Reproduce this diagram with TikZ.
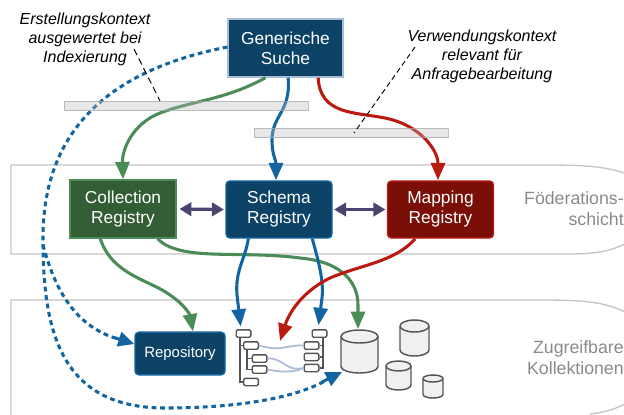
\documentclass[tikz,border=0pt]{standalone}
\usepackage{fontspec}
\setmainfont{Liberation Sans}
\usetikzlibrary{arrows.meta,calc}
\definecolor{navy}{HTML}{0C4266}
\definecolor{navyedge}{HTML}{A9BCD6}
\definecolor{arrblue}{HTML}{1265A0}
\definecolor{forest}{HTML}{335D35}
\definecolor{arrgreen}{HTML}{4A8B57}
\definecolor{darkred}{HTML}{7A0F08}
\definecolor{arrred}{HTML}{BB1A10}
\definecolor{purp}{HTML}{4A4570}
\definecolor{bandline}{HTML}{C4C4C4}
\definecolor{graytxt}{HTML}{8A8A8A}
\definecolor{sketch}{HTML}{555555}
\tikzset{
  box/.style={text=white,align=center,font=\fontsize{13}{15}\selectfont,inner sep=0pt,line width=1.1pt},
  bigtip/.style={-{Triangle[width=10.5pt,length=13pt]}},
  conn/.style={line width=2.3pt,bigtip},
  bluec/.style={conn,draw=arrblue},
  greenc/.style={conn,draw=arrgreen},
  redc/.style={conn,draw=arrred},
  dashc/.style={line width=2.3pt,draw=arrblue,dash pattern=on 3.6pt off 2.8pt},
  both/.style={line width=2.4pt,draw=purp,{Triangle[width=10pt,length=9pt]}-{Triangle[width=10pt,length=9pt]}},
  band/.style={line width=1pt,draw=bandline},
  bar/.style={draw=gray!70,line width=.6pt,fill=gray!55,fill opacity=.35,draw opacity=.7,inner sep=0pt,minimum height=7pt},
  note/.style={align=center,font=\fontsize{12}{14.2}\selectfont\itshape,inner sep=0pt},
  side/.style={align=right,anchor=east,text=graytxt,font=\fontsize{13.3}{15.8}\selectfont,inner sep=0pt},
  leaf/.style={draw=sketch,line width=1pt,fill=white,rounded corners=1pt,minimum width=11pt,minimum height=5.5pt,inner sep=0pt},
  tree/.style={draw=sketch,line width=1.1pt},
  link/.style={draw=navyedge,line width=1.3pt},
  cyl/.style={draw=sketch,line width=1.1pt,fill=gray!12}
}
\newcommand{\barrel}[5]{% cx, top-centre y, half width, bottom-centre y, half height of the ellipse
  \pgfmathsetmacro{\xa}{#1-#3}\pgfmathsetmacro{\xb}{#1+#3}
  \pgfmathsetmacro{\xc}{#1-.55*#3}\pgfmathsetmacro{\xd}{#1+.55*#3}
  \pgfmathsetmacro{\ya}{#2-#5}\pgfmathsetmacro{\yb}{#2+#5}
  \pgfmathsetmacro{\yc}{#2-.55*#5}\pgfmathsetmacro{\yd}{#2+.55*#5}
  \pgfmathsetmacro{\ye}{#4+#5}\pgfmathsetmacro{\yf}{#4+.55*#5}
  \filldraw[cyl] (\xa,#2) -- (\xa,#4) .. controls (\xa,\yf) and (\xc,\ye) .. (#1,\ye) .. controls (\xd,\ye) and (\xb,\yf) .. (\xb,#4) -- (\xb,#2)
     .. controls (\xb,\yc) and (\xd,\ya) .. (#1,\ya) .. controls (\xc,\ya) and (\xa,\yc) .. (\xa,#2) -- cycle;
  \draw[cyl,fill=none] (\xa,#2) .. controls (\xa,\yd) and (\xc,\yb) .. (#1,\yb) .. controls (\xd,\yb) and (\xb,\yd) .. (\xb,#2);
}
\begin{document}
\begin{tikzpicture}[x=.75pt,y=-.75pt]
\useasboundingbox (0,0) rectangle (624,414);
\begin{scope}
\clip (0,0) rectangle (624,414);
% bands
\draw[band] (640,179) .. controls (610,166) and (590,165) .. (540,165) -- (11,165) -- (11,254) -- (570,254) .. controls (600,254) and (615,250) .. (632,240);
\draw[band] (640,322) .. controls (615,302) and (590,300) .. (540,300) -- (11,300) -- (11,420);
\draw[band] (590,414) .. controls (605,412) and (615,410) .. (632,400);
% nodes
\node[box,fill=navy,draw=navyedge,minimum width=86pt,minimum height=43.5pt] (gs) at (285.5,48) {Generische\\Suche};
\node[box,fill=forest,draw=arrgreen,minimum width=79.5pt,minimum height=43.5pt] (cr) at (123,209) {Collection\\Registry};
\node[box,fill=navy,draw=arrblue,rounded corners=3pt,minimum width=79.5pt,minimum height=42.75pt] (sr) at (279,209.5) {Schema\\Registry};
\node[box,fill=darkred,draw=arrred,rounded corners=3pt,minimum width=79.5pt,minimum height=42.75pt] (mr) at (440.5,209.5) {Mapping\\Registry};
\node[box,fill=navy,draw=arrblue,rounded corners=3pt,minimum width=67.5pt,minimum height=32pt,font=\fontsize{11.2}{13}\selectfont] (rp) at (180,353.5) {Repository};
% schema trees
\node[leaf] (a1) at (243.5,333.5) {};
\node[leaf] (a2) at (251,345.5) {};
\node[leaf] (a3) at (259.5,358.5) {};
\node[leaf] (a4) at (259.5,369.5) {};
\node[leaf] (a5) at (251,382) {};
\node[leaf] (b1) at (319.5,333.5) {};
\node[leaf] (b2) at (311.5,345.5) {};
\node[leaf] (b3) at (311.5,357) {};
\node[leaf] (b4) at (311.5,368) {};
\draw[link] (a2.east) .. controls (282,352) and (285,345) .. (b2.west);
\draw[link] (a3.east) .. controls (285,358) and (285,372) .. (b4.west);
\draw[link] (a4.east) .. controls (285,373) and (295,372) .. (b4.west);
\draw[tree] (a1.south -| 240,0) |- (a5.west);
\draw[tree] (240,0 |- a2.west) -- (a2.west);
\draw[tree] (a2.south -| 247,0) |- (a4.west);
\draw[tree] (247,0 |- a3.west) -- (a3.west);
\draw[tree] (b1.south -| 323,0) |- (b4.east);
\draw[tree] (323,0 |- b2.east) -- (b2.east);
\draw[tree] (323,0 |- b3.east) -- (b3.east);
% cylinders
\barrel{359.5}{336.5}{18.5}{366.5}{6.5}
\barrel{414.5}{326}{14.5}{350}{6}
\barrel{398.5}{366}{12.5}{385}{5}
\barrel{433}{378.5}{10}{394.5}{3.5}
\coordinate (bigtop) at (358,329);
\coordinate (bigside) at (342,372);
% arrows
\draw[dashc] (gs.west |- 0,47) .. controls (130,66) and (42,115) .. (43,240) .. controls (43,330) and (60,408) .. (165,408) .. controls (230,408) and (290,400) .. (325,381);
\draw[arrblue,line width=2.3pt,-{Triangle[width=11pt,length=12pt]}] (322,382) -- (bigside);
\draw[dashc] (43,245) .. controls (55,290) and (75,325) .. (115,338);
\draw[arrblue,line width=2.3pt,-{Triangle[width=11pt,length=12pt]}] (114,337.5) -- (rp.west |- 0,344);
\draw[greenc] ([xshift=-15pt]gs.south) .. controls (225,100) and (195,100) .. (160,113) .. controls (132,124) and (122,150) .. (cr.north);
\draw[bluec] ([xshift=2pt]gs.south) .. controls (291,112) and (272,115) .. (272,140) .. controls (272,155) and (276,160) .. (sr.north -| 276,0);
\draw[redc] ([xshift=24.5pt]gs.south) .. controls (320,115) and (355,112) .. (385,118) .. controls (420,125) and (438,150) .. (mr.north -| 438,0);
\draw[greenc] ([xshift=-17pt]cr.south) .. controls (112,275) and (150,280) .. (170,295) .. controls (185,305) and (190,315) .. (rp.north -| 193,0);
\draw[greenc] ([xshift=26pt]cr.south) .. controls (180,262) and (240,250) .. (300,258) .. controls (345,262) and (358,285) .. (358,305) -- (bigtop);
\draw[bluec,shorten >=2pt] ([xshift=-23pt]sr.south) .. controls (245,260) and (235,270) .. (237,295) -- (a1.north -| 241,0);
\draw[bluec,shorten >=3pt] ([xshift=25pt]sr.south) .. controls (318,260) and (324,280) .. (322,298) -- (b1.north -| 318,0);
\draw[redc] ([xshift=-19pt]mr.south) .. controls (395,262) and (360,265) .. (330,278) .. controls (305,290) and (290,310) .. (280,341);
\draw[both] ([xshift=2pt]cr.east |- 0,209) -- ([xshift=-1pt]sr.west);
\draw[both] ([xshift=1pt]sr.east) -- ([xshift=-1pt]mr.west);
% notes
\node[note] (n1) at (85,39.5) {Erstellungskontext\\ausgewertet bei\\Indexierung};
\node[note] (n2) at (482,56) {Verwendungskontext\\relevant für\\Anfragebearbeitung};
% bars
\node[bar,minimum width=183pt] (b1bar) at (186,106) {};
\node[bar,minimum width=145.5pt] (b2bar) at (351,133) {};
\draw[dash pattern=on 5pt off 3pt,line width=.7pt] (134,49) -- (b1bar.north -| 160,0);
\draw[dash pattern=on 4pt off 2.5pt,line width=.7pt] (415,47) -- (b2bar.center -| 354,0);
% side labels
\node[side] (s1) at (624,208.5) {Föderations-\\schicht};
\node[side] (s2) at (624,358) {Zugreifbare\\Kollektionen};
\end{scope}
\end{tikzpicture}
\end{document}
